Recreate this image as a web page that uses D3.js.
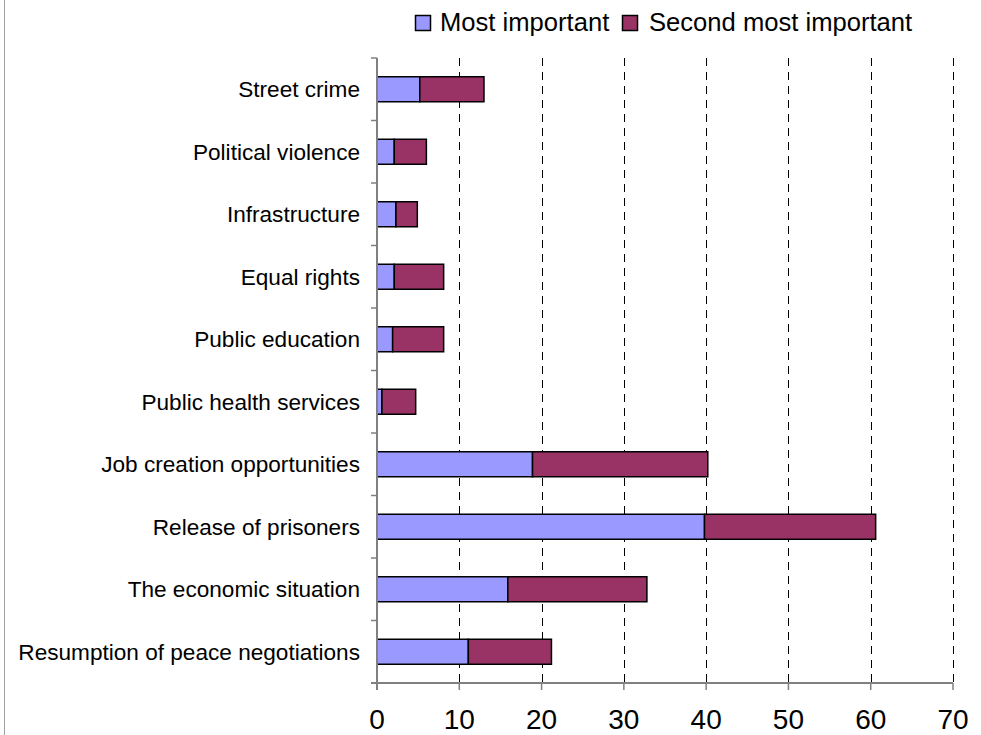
<!DOCTYPE html>
<html>
<head>
<meta charset="utf-8">
<script src="https://cdn.jsdelivr.net/npm/d3@7"></script>
<style>
  html, body { margin: 0; padding: 0; background: #fff; }
  svg { display: block; font-family: "Liberation Sans", Arial, sans-serif; }
</style>
</head>
<body>
<div id="chart"></div>
<script>
// categories, top to bottom
const categories = [
  'Street crime',
  'Political violence',
  'Infrastructure',
  'Equal rights',
  'Public education',
  'Public health services',
  'Job creation opportunities',
  'Release of prisoners',
  'The economic situation',
  'Resumption of peace negotiations'
];
const mostImportant = [5.2, 2.1, 2.3, 2.1, 1.9, 0.6, 18.9, 39.8, 15.9, 11.1];
const secondMost = [7.8, 3.9, 2.6, 6.0, 6.2, 4.1, 21.3, 20.8, 16.9, 10.1];
const seriesNames = ['Most important', 'Second most important'];
const seriesColors = ['#9999ff', '#993366'];
const xTicks = [0, 10, 20, 30, 40, 50, 60, 70];

const W = 981, H = 735;
const m = { t: 58, r: 28, b: 52, l: 377 };

const svg = d3.select('#chart').append('svg')
  .attr('width', W)
  .attr('height', H);

// thin frame line at left edge
svg.append('line')
  .attr('x1', 4.5).attr('x2', 4.5)
  .attr('y1', 0).attr('y2', H)
  .attr('stroke', '#a0a0a0').attr('stroke-width', 1);

const x = d3.scaleLinear().domain([0, 70]).range([m.l, W - m.r]);
const y = d3.scaleBand().domain(categories).range([m.t, H - m.b]).paddingInner(0.6).paddingOuter(0.3);
const yEdge = d3.scaleLinear().domain([0, categories.length]).range([m.t, H - m.b]);

// dashed gridlines
svg.append('g').selectAll('line')
  .data(xTicks.slice(1))
  .join('line')
  .attr('x1', d => Math.round(x(d)) + 0.5)
  .attr('x2', d => Math.round(x(d)) + 0.5)
  .attr('y1', m.t)
  .attr('y2', H - m.b)
  .attr('stroke', '#000')
  .attr('stroke-width', 1)
  .attr('stroke-dasharray', '8,6');

// stacked data
const rows = categories.map((c, i) => ({ cat: c, a: mostImportant[i], b: secondMost[i] }));
const stack = d3.stack().keys(['a', 'b'])(rows);

svg.append('g').selectAll('g')
  .data(stack)
  .join('g')
  .attr('fill', (d, i) => seriesColors[i])
  .selectAll('rect')
  .data(d => d)
  .join('rect')
  .attr('x', d => x(d[0]))
  .attr('y', d => y(d.data.cat))
  .attr('width', d => x(d[1]) - x(d[0]))
  .attr('height', y.bandwidth())
  .attr('stroke', '#000')
  .attr('stroke-width', 1.5);

// y axis
const yAxis = svg.append('g');
yAxis.append('line')
  .attr('x1', m.l).attr('x2', m.l)
  .attr('y1', m.t).attr('y2', H - m.b + 7)
  .attr('stroke', '#808080').attr('stroke-width', 2);
yAxis.selectAll('line.tk')
  .data(d3.range(categories.length))
  .join('line')
  .attr('class', 'tk')
  .attr('x1', m.l - 6).attr('x2', m.l)
  .attr('y1', d => yEdge(d)).attr('y2', d => yEdge(d))
  .attr('stroke', '#808080').attr('stroke-width', 1.5);
yAxis.selectAll('text')
  .data(categories)
  .join('text')
  .attr('x', m.l - 17)
  .attr('y', d => y(d) + y.bandwidth() / 2)
  .attr('dy', '0.36em')
  .attr('text-anchor', 'end')
  .attr('font-size', 22.6)
  .attr('fill', '#000')
  .text(d => d);

// x axis
const xAxis = svg.append('g').attr('transform', `translate(0,${H - m.b})`);
xAxis.append('line')
  .attr('x1', m.l - 6).attr('x2', x(70))
  .attr('stroke', '#808080').attr('stroke-width', 2);
xAxis.selectAll('line.tk')
  .data(xTicks)
  .join('line')
  .attr('class', 'tk')
  .attr('x1', d => x(d)).attr('x2', d => x(d))
  .attr('y1', 0).attr('y2', 7)
  .attr('stroke', '#808080').attr('stroke-width', 1.5);
xAxis.selectAll('text')
  .data(xTicks)
  .join('text')
  .attr('x', d => x(d))
  .attr('y', 46)
  .attr('text-anchor', 'middle')
  .attr('font-size', 28)
  .attr('fill', '#000')
  .text(d => d);

// legend
const legendX = [415, 622];
const legend = svg.append('g').selectAll('g')
  .data(seriesNames)
  .join('g')
  .attr('transform', (d, i) => `translate(${legendX[i]},0)`);
legend.append('rect')
  .attr('x', 0.5).attr('y', 15.5)
  .attr('width', 15).attr('height', 15)
  .attr('fill', (d, i) => seriesColors[i])
  .attr('stroke', '#000').attr('stroke-width', 1.5);
legend.append('text')
  .attr('x', (d, i) => i === 0 ? 25 : 27)
  .attr('y', 31)
  .attr('font-size', 25.6)
  .attr('fill', '#000')
  .text(d => d);
</script>
</body>
</html>
